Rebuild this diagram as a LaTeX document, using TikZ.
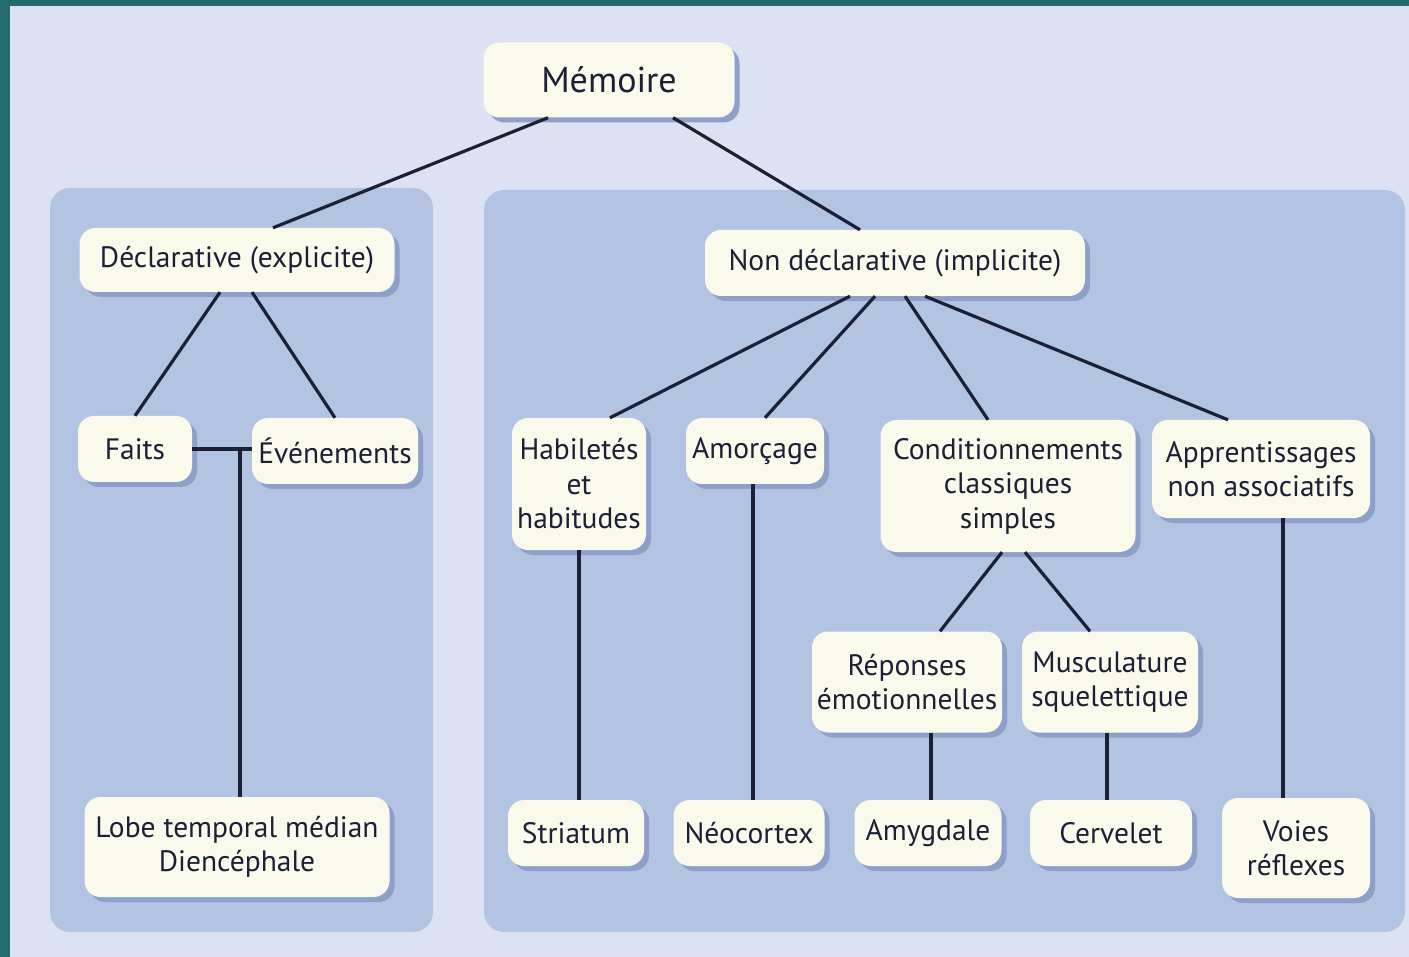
\documentclass[tikz,border=0pt]{standalone}
\usepackage{fontspec}
\setmainfont{PT Sans}
\usetikzlibrary{shadows}
\definecolor{teal1}{HTML}{246C70}
\definecolor{backblue}{HTML}{DCE2F3}
\definecolor{panelblue}{HTML}{B3C3E2}
\definecolor{shadowblue}{HTML}{8E9FC9}
\definecolor{cream}{HTML}{FAFAEC}
\definecolor{ink}{HTML}{1B2034}
\begin{document}
\begin{tikzpicture}[x=1pt,y=-1pt]
\tikzstyle{box}=[rectangle,rounded corners=16pt,fill=cream,text=ink,align=center,inner sep=0pt,
  font=\fontsize{29.5}{34.5}\selectfont,
  drop shadow={shadow xshift=5pt,shadow yshift=-5pt,fill=shadowblue,opacity=1}]
\tikzstyle{link}=[draw=ink,line width=3.2pt]
\useasboundingbox (0,0) rectangle (1409,957);
\fill[teal1] (0,0) rectangle (1409,957);
\fill[backblue] (10,6) rectangle (1409,957);
\fill[panelblue,rounded corners=20pt] (50,188) rectangle (433,932);
\fill[panelblue,rounded corners=20pt] (484,190) rectangle (1405,932);
% top
\node[box,minimum width=251pt,minimum height=75pt,font=\fontsize{36}{40}\selectfont] (M) at (609,80) {Mémoire};
\node[box,minimum width=315pt,minimum height=64pt] (D) at (237,260) {Déclarative (explicite)};
\node[box,minimum width=380pt,minimum height=66pt] (ND) at (895,263) {Non déclarative (implicite)};
% left panel
\node[box,minimum width=114pt,minimum height=66pt] (F) at (135,449) {Faits};
\node[box,minimum width=166pt,minimum height=66pt] (E) at (335,451) {Événements};
\node[box,minimum width=305pt,minimum height=100pt] (L) at (237,847) {Lobe temporal médian\\Diencéphale};
% right panel
\node[box,minimum width=134pt,minimum height=132pt] (H) at (579,484) {Habiletés\\et\\habitudes};
\node[box,minimum width=138pt,minimum height=66pt] (A) at (755,451) {Amorçage};
\node[box,minimum width=255pt,minimum height=132pt] (C) at (1008,486) {Conditionnements\\classiques\\simples};
\node[box,minimum width=218pt,minimum height=98pt] (AP) at (1261,469) {Apprentissages\\non associatifs};
\node[box,minimum width=190pt,minimum height=101pt] (R) at (907,682) {Réponses\\émotionnelles};
\node[box,minimum width=176pt,minimum height=101pt] (MS) at (1110,682) {Musculature\\squelettique};
\node[box,minimum width=136pt,minimum height=66pt] (S) at (576,833) {Striatum};
\node[box,minimum width=151pt,minimum height=66pt] (N) at (749,833) {Néocortex};
\node[box,minimum width=147pt,minimum height=66pt] (AM) at (928,833) {Amygdale};
\node[box,minimum width=162pt,minimum height=66pt] (CE) at (1111,833) {Cervelet};
\node[box,minimum width=148pt,minimum height=100pt] (V) at (1296,848) {Voies\\réflexes};
\coordinate (FE) at (240,449);
\draw[link] ([xshift=-61pt]M.south) -- ([xshift=36pt]D.north);
\draw[link] ([xshift=64pt]M.south) -- ([xshift=-35pt]ND.north);
\draw[link] ([xshift=-17pt]D.south) -- (F.north);
\draw[link] ([xshift=15pt]D.south) -- (E.north);
\draw[link] (F.east) -- (F.east -| E.west);
\draw[link] (FE) -- (FE |- L.north);
\draw[link] ([xshift=-45pt]ND.south) -- ([xshift=31pt]H.north);
\draw[link] ([xshift=-20pt]ND.south) -- ([xshift=10pt]A.north);
\draw[link] ([xshift=10pt]ND.south) -- ([xshift=-20pt]C.north);
\draw[link] ([xshift=30pt]ND.south) -- ([xshift=-33pt]AP.north);
\draw[link] (H.south) -- (H.south |- S.north);
\draw[link] ([xshift=-2pt]A.south) -- ([xshift=-2pt]A.south |- N.north);
\draw[link] ([xshift=-6pt]C.south) -- ([xshift=33pt]R.north);
\draw[link] ([xshift=17pt]C.south) -- ([xshift=-20pt]MS.north);
\draw[link] ([xshift=24pt]R.south) -- ([xshift=24pt]R.south |- AM.north);
\draw[link] ([xshift=-3pt]MS.south) -- ([xshift=-3pt]MS.south |- CE.north);
\draw[link] ([xshift=22pt]AP.south) -- ([xshift=22pt]AP.south |- V.north);
\end{tikzpicture}
\end{document}
